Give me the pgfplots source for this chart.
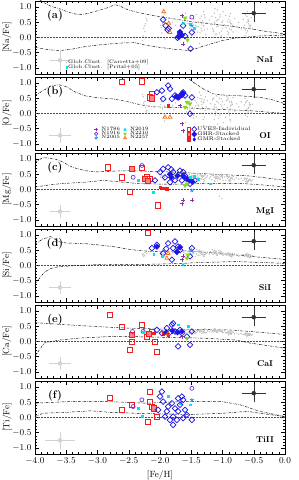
\documentclass[border=0pt]{standalone}
\usepackage{pgfplots}
\pgfplotsset{compat=1.18}
\usepackage{pgfplotstable}
\usepgfplotslibrary{groupplots}
\usetikzlibrary{plotmarks,calc}

\definecolor{uvred}{RGB}{240,30,30}
\definecolor{uvblue}{RGB}{30,20,230}
\definecolor{c1786}{RGB}{140,50,160}
\definecolor{c1916}{RGB}{120,50,220}
\definecolor{c2005}{RGB}{30,140,250}
\definecolor{c2019}{RGB}{0,210,210}
\definecolor{c2210}{RGB}{130,220,20}
\definecolor{c2257}{RGB}{250,110,20}
\definecolor{pritzl}{RGB}{0,230,230}

\pgfplotstableread{
x na o mg si ca
-2.27 0.05 0.55 0.40 0.38 0.32
-2.23 0.45 0.20 0.35 0.45 0.28
-2.26 0.30 0.35 0.42 0.30 0.35
-2.22 0.62 0.05 0.30 0.50 0.25
-2.28 -0.10 0.62 0.45 0.35 0.30
-2.24 0.20 0.40 0.38 0.42 0.38
-2.21 0.55 0.10 0.33 0.40 0.27
-2.25 0.38 0.28 0.41 0.33 0.33
-1.97 0.15 0.50 0.45 0.40 0.33
-1.93 0.50 0.25 0.40 0.48 0.30
-1.95 0.70 0.00 0.35 0.35 0.36
-1.98 0.32 0.38 0.50 0.44 0.28
-1.92 -0.05 0.60 0.43 0.30 0.34
-1.96 0.45 0.15 0.38 0.52 0.31
-1.94 0.60 -0.10 0.32 0.38 0.26
-1.91 0.25 0.45 0.47 0.42 0.35
-1.99 0.40 0.30 0.41 0.36 0.29
-1.93 0.80 -0.25 0.30 0.46 0.32
-1.60 0.10 0.55 0.48 0.38 0.35
-1.55 0.45 0.30 0.42 0.45 0.30
-1.58 0.65 0.05 0.35 0.33 0.38
-1.53 0.30 0.40 0.50 0.50 0.27
-1.62 -0.15 0.65 0.45 0.42 0.33
-1.56 0.55 0.15 0.38 0.36 0.40
-1.59 0.80 -0.30 0.28 0.48 0.29
-1.47 0.20 0.48 0.46 0.40 0.34
-1.43 0.40 0.25 0.40 0.30 0.31
-1.46 0.70 -0.05 0.33 0.44 0.36
-1.49 0.05 0.58 0.52 0.35 0.28
-1.41 0.35 0.35 0.44 0.52 0.37
-1.46 0.60 -0.15 0.30 0.39 0.32
-1.44 0.25 0.42 0.47 0.46 0.26
-1.35 0.00 0.60 0.50 0.40 0.36
-1.31 0.40 0.35 0.45 0.35 0.32
-1.34 0.70 0.00 0.35 0.45 0.40
-1.29 0.25 0.45 0.48 0.30 0.29
-1.37 -0.20 0.70 0.52 0.50 0.34
-1.32 0.55 0.20 0.40 0.38 0.38
-1.30 0.85 -0.40 0.25 0.42 0.30
-1.36 0.15 0.50 0.47 0.33 0.35
-1.33 0.45 0.30 0.42 0.48 0.27
-1.28 0.65 0.10 0.37 0.36 0.42
-1.34 0.30 0.40 0.44 0.44 0.33
-1.31 0.50 -0.20 0.32 0.31 0.31
-1.38 0.35 0.25 0.41 0.47 0.37
-1.27 0.10 0.55 0.49 0.39 0.28
-1.14 0.20 0.50 0.45 0.45 0.36
-1.10 0.55 0.20 0.38 0.38 0.33
-1.13 0.80 -0.20 0.30 0.50 0.40
-1.09 0.35 0.40 0.42 0.34 0.30
-1.15 0.00 0.65 0.50 0.42 0.38
-1.11 0.65 0.05 0.35 0.47 0.35
-1.12 0.45 0.30 0.40 0.40 0.42
-1.08 0.90 -0.35 0.28 0.36 0.31
-1.16 0.30 0.45 0.47 0.52 0.34
-1.11 0.10 -0.05 0.44 0.44 0.37
-1.05 0.15 0.50 0.47 0.42 0.38
-1.01 0.50 0.25 0.42 0.36 0.34
-1.04 0.75 0.00 0.35 0.47 0.40
-1.00 0.30 0.40 0.45 0.40 0.31
-1.06 0.60 -0.15 0.38 0.50 0.36
-1.02 0.05 0.60 0.50 0.38 0.33
-1.03 0.40 0.30 0.43 0.44 0.39
-0.99 0.85 -0.30 0.30 0.34 0.29
-1.01 nan nan -0.30 nan nan
-1.05 nan nan -0.22 nan nan
-0.91 0.10 0.50 0.42 0.38 0.30
-0.87 0.45 0.25 0.35 0.33 0.27
-0.90 0.60 0.05 0.30 0.42 0.33
-0.86 0.25 0.40 0.40 0.30 0.24
-0.93 0.00 0.55 0.45 0.36 0.29
-0.88 0.50 0.15 0.33 0.40 0.32
-0.89 0.70 -0.05 0.28 0.34 0.26
-0.85 0.35 0.35 0.38 0.28 0.31
-0.92 0.20 0.45 0.43 0.37 0.28
-0.88 0.55 -0.20 0.31 0.31 0.25
-0.84 0.40 0.30 0.36 0.39 0.30
-0.90 0.15 0.60 0.41 0.35 0.22
-0.62 0.15 0.40 0.35 0.35 0.25
-0.58 0.45 0.20 0.30 0.30 0.22
-0.61 0.70 0.00 0.25 0.40 0.28
-0.57 0.30 0.30 0.32 0.27 0.20
-0.64 0.05 0.50 0.38 0.33 0.24
-0.59 0.55 0.10 0.28 0.37 0.26
-0.60 0.85 -0.10 0.22 0.31 0.19
-0.56 0.35 0.25 0.33 0.25 0.23
-0.63 0.25 0.35 0.36 0.36 0.27
-0.59 0.60 0.05 0.27 0.29 0.21
-0.55 0.40 0.30 0.31 0.34 0.25
-0.61 0.50 0.15 0.29 0.32 0.18
-1.52 0.62 0.12 0.36 0.41 0.33
-1.50 0.28 0.45 0.45 0.37 0.30
-1.48 0.48 0.20 0.41 0.43 0.35
-1.42 0.75 -0.10 0.31 0.38 0.29
-1.40 0.18 0.52 0.48 0.46 0.33
-1.39 0.52 0.28 0.39 0.34 0.36
-1.36 0.62 0.15 0.36 0.41 0.31
-1.33 0.22 0.48 0.46 0.37 0.39
-1.30 0.38 0.38 0.43 0.43 0.33
-1.29 0.75 -0.12 0.31 0.35 0.37
-1.26 0.48 0.22 0.40 0.40 0.30
-1.24 0.28 0.42 0.45 0.44 0.35
-1.21 0.58 0.15 0.37 0.38 0.33
-1.19 0.42 0.32 0.42 0.45 0.38
-1.17 0.70 0.02 0.33 0.41 0.31
-1.15 0.25 0.50 0.47 0.36 0.36
-1.13 0.50 0.22 0.39 0.43 0.34
-1.12 0.95 -0.45 0.26 0.39 0.39
-1.10 0.12 0.58 0.48 0.47 0.32
-1.08 0.58 0.12 0.36 0.35 0.37
-1.07 0.38 0.35 0.41 0.42 0.35
-1.04 0.68 -0.05 0.33 0.38 0.33
-1.02 0.22 0.48 0.46 0.45 0.36
-1.00 0.55 0.18 0.38 0.41 0.32
-0.97 0.42 0.30 0.41 0.37 0.35
-0.95 0.72 -0.12 0.30 0.40 0.30
-0.94 0.32 0.42 0.44 0.34 0.28
-0.92 0.52 0.20 0.37 0.39 0.31
-0.89 0.28 0.38 0.42 0.36 0.27
-0.87 0.78 -0.25 0.27 0.32 0.29
-0.86 0.45 0.28 0.37 0.37 0.26
-0.83 0.18 0.52 0.43 0.33 0.30
-0.81 0.62 0.08 0.32 0.38 0.25
-0.78 0.35 0.32 0.38 0.35 0.28
-0.74 0.50 0.22 0.34 0.31 0.24
-0.70 0.28 0.38 0.37 0.34 0.27
-0.67 0.60 0.10 0.30 0.36 0.23
-0.65 0.40 0.28 0.34 0.30 0.25
-0.63 0.75 -0.05 0.26 0.34 0.21
-0.60 0.22 0.42 0.37 0.28 0.24
-0.58 0.52 0.18 0.30 0.33 0.22
-0.57 0.38 0.35 0.33 0.36 0.26
-0.54 0.65 0.02 0.27 0.30 0.20
-0.52 0.30 0.30 0.32 0.32 0.23
-1.75 0.40 0.35 0.42 0.40 0.33
-1.78 0.62 0.12 0.36 0.45 0.30
-1.72 0.20 0.50 0.46 0.36 0.35
-1.80 0.50 0.25 0.40 0.42 0.31
}\gcdata

\pgfplotsset{
 gc/.style={only marks, mark=*, mark size=0.45pt, gray!50, mark options={draw=none, fill=gray!50}},
 uvr/.style={only marks, mark=square, mark size=2.6pt, uvred, line width=0.7pt},
 ghrr/.style={only marks, mark=square*, mark size=2.6pt, draw=uvred, fill=uvred!55, line width=0.7pt},
 gmrr/.style={only marks, mark=square*, mark size=1.2pt, uvred},
 uvb/.style={only marks, mark=square, mark size=2pt, mark options={rotate=45}, uvblue, line width=0.7pt},
 ghrb/.style={only marks, mark=square*, mark size=2pt, mark options={rotate=45}, uvblue},
 gmrb/.style={only marks, mark=diamond*, mark size=1.5pt, uvblue},
 n1786/.style={only marks, mark=+, mark size=2pt, c1786, line width=0.7pt},
 n1916/.style={only marks, mark=o, mark size=2pt, c1916, line width=0.7pt},
 n2005/.style={only marks, mark=star, mark size=2.2pt, c2005, line width=0.7pt},
 n2019/.style={only marks, mark=x, mark size=2pt, c2019, line width=0.8pt},
 n2210/.style={only marks, mark=triangle*, mark size=2.2pt, mark options={rotate=180}, c2210},
 n2257/.style={only marks, mark=triangle, mark size=2.2pt, c2257, line width=0.7pt},
 prz/.style={only marks, mark=square*, mark size=0.9pt, pritzl},
 env/.style={no marks, black, line width=0.45pt, dash pattern=on 2.5pt off 1.2pt on 0.5pt off 1.2pt},
 zl/.style={no marks, black!70, line width=0.5pt, densely dotted},
 errg/.style={only marks, mark=none, gray!35, line width=0.45pt,
   error bars/x dir=both, error bars/x explicit, error bars/y dir=both, error bars/y explicit,
   error bars/error mark options={gray!35, mark size=2pt, line width=0.45pt}},
 errk/.style={only marks, mark=none, black!80, line width=0.4pt,
   error bars/x dir=both, error bars/x explicit, error bars/y dir=both, error bars/y explicit,
   error bars/error mark options={black!80, mark size=2pt, line width=0.4pt}},
}

\newcommand{\plab}[1]{\node[font=\fontsize{11}{12}\selectfont\bfseries] at (rel axis cs:0.08,0.8) {(#1)};}
\newcommand{\elab}[1]{\node[font=\fontsize{8.5}{9}\selectfont\bfseries] at (rel axis cs:0.92,0.2) {#1};}

\begin{document}
\begin{tikzpicture}
\begin{groupplot}[
  group style={group size=1 by 6, vertical sep=3pt, xticklabels at=edge bottom},
  width=250pt, height=73pt, scale only axis,
  xmin=-4, xmax=0, ymin=-1.2, ymax=1.2,
  xtick={-4,-3.5,-3,-2.5,-2,-1.5,-1,-0.5,0},
  ytick={-1,-0.5,0,0.5,1},
  minor x tick num=4, minor y tick num=4,
  tick align=inside, major tick length=4pt, minor tick length=2pt,
  axis line style={line width=0.8pt},
  every tick/.style={black, line width=0.5pt},
  tick label style={font=\fontsize{9.5}{10}\selectfont},
  xticklabel style={/pgf/number format/.cd, fixed, fixed zerofill, precision=1},
  yticklabel style={/pgf/number format/.cd, fixed, fixed zerofill, precision=1},
  label style={font=\fontsize{9}{10}\selectfont},
  ylabel style={at={(rel axis cs:-0.112,0.5)}, anchor=center},
]
% ---------------- (a) Na ----------------
\nextgroupplot[ylabel={[Na/Fe]},
  legend style={at={(rel axis cs:0.11,0.23)}, anchor=north west, draw=none, fill=none,
    font=\fontsize{5}{5.5}\selectfont, row sep=-1.5pt, nodes={inner sep=0.6pt}},
  legend cell align=left]
\addplot[gc] table[x=x, y=na] {\gcdata};
\addlegendentry{Glob.Clust.\ \ [Carretta+09]}
\addplot[prz] coordinates {(-1.52,0.45) (-1.45,0.30)};
\addlegendentry{Glob.Clust.\ \ [Pritzl+05]}
\addplot[zl, forget plot] coordinates {(-4,0) (0,0)};
\addplot[env, forget plot] coordinates {(-4.0,1.35) (-3.87,1.16) (-3.75,1.03) (-3.6,0.94) (-3.45,0.82) (-3.3,0.75) (-3.15,0.79) (-3.0,0.88) (-2.85,0.97) (-2.72,1.08) (-2.65,1.04) (-2.5,0.9) (-2.3,0.8) (-2.1,0.72) (-1.8,0.62) (-1.5,0.52) (-1.2,0.45) (-0.9,0.38) (-0.6,0.3) (-0.3,0.2) (0,0.12)};
\addplot[env, forget plot] coordinates {(-4,-0.32) (-3.8,-0.4) (-3.6,-0.43) (-3.4,-0.38) (-3.2,-0.3) (-3.0,-0.25) (-2.8,-0.21) (-2.6,-0.18) (-2.4,-0.17) (-2.16,-0.28) (-1.8,-0.38) (-1.52,-0.43) (-1.3,-0.28) (-1.0,-0.1) (-0.8,-0.02) (-0.4,0.05) (0,0.08)};
\addplot[uvb, forget plot] coordinates {(-1.95,0.59) (-1.91,0.39) (-1.88,0.25) (-1.72,-0.01) (-1.68,0.12) (-1.63,0.39) (-1.49,0.17) (-1.51,-0.37) (-1.86,0.30) (-1.60,0.05)};
\addplot[ghrb, forget plot] coordinates {(-1.65,0.08) (-1.68,0.18) (-1.70,0.02)};
\addplot[n2257, forget plot] coordinates {(-1.94,0.85) (-1.86,0.47) (-1.84,0.17)};
\addplot[n1786, forget plot] coordinates {(-1.65,0.72) (-1.63,-0.21)};
\addplot[n1916, forget plot] coordinates {(-1.49,0.67)};
\addplot[n2210, forget plot] coordinates {(-1.6,0.64) (-1.56,-0.08)};
\addplot[n2019, forget plot] coordinates {(-1.63,0.47)};
\addplot[n2005, forget plot] coordinates {(-1.49,0.39)};
\addplot[forget plot, errg] coordinates {(-3.6,-0.75) +- (0.13,0.27)};
\addplot[forget plot, errk] coordinates {(-0.5,0.8) +- (0.16,0.22)};
\plab{a}\elab{NaI}
% ---------------- (b) O ----------------
\nextgroupplot[ylabel={[O/Fe]},
  legend style={at={(rel axis cs:0.225,0.35)}, anchor=north west, draw=none, fill=none,
    font=\fontsize{5}{5.5}\selectfont, row sep=-2pt, column sep=3pt, nodes={inner sep=0.6pt}},
  legend columns=2, legend cell align=left,
  legend image post style={mark size=1.7pt}]
\addlegendimage{n1786}\addlegendentry{N1786}
\addlegendimage{n2019}\addlegendentry{N2019}
\addlegendimage{n1916}\addlegendentry{N1916}
\addlegendimage{n2210}\addlegendentry{N2210}
\addlegendimage{n2005}\addlegendentry{N2005}
\addlegendimage{n2257}\addlegendentry{N2257}
\addplot[gc, forget plot] table[x=x, y=o] {\gcdata};
\addplot[zl, forget plot] coordinates {(-4,0) (0,0)};
\addplot[env, forget plot] coordinates {(-4,0.59) (-3.87,0.75) (-3.75,0.9) (-3.62,0.95) (-3.5,0.88) (-3.35,0.7) (-3.2,0.58) (-3.0,0.52) (-2.75,0.48) (-2.5,0.38) (-2.3,0.28) (-2.1,0.22) (-1.8,0.2) (-1.5,0.18) (-1.2,0.15) (-0.9,0.12) (-0.6,0.1) (-0.3,0.05) (0,0.0)};
\addplot[env, forget plot] coordinates {(-1.6,1.25) (-1.47,1.03) (-1.3,0.8) (-1.15,0.65) (-0.95,0.6) (-0.77,0.59) (-0.4,0.53) (-0.2,0.45) (0,0.32)};
\addplot[uvr, forget plot] coordinates {(-2.61,1.03) (-2.29,1.06) (-2.16,0.53) (-2.13,0.65)};
\addplot[ghrr, forget plot] coordinates {(-2.13,0.50)};
\addplot[gmrr, forget plot] coordinates {(-1.87,0.26)};
\addplot[uvb, forget plot] coordinates {(-2.05,0.70) (-1.97,0.75) (-1.87,0.92) (-1.84,0.81) (-1.95,0.48) (-1.76,0.59) (-1.71,0.53) (-1.65,0.65) (-1.63,0.70) (-1.60,0.59) (-1.49,0.53) (-1.52,-0.01) (-1.81,0.48)};
\addplot[ghrb, forget plot] coordinates {(-1.65,0.60) (-1.63,0.66) (-1.70,0.53) (-1.74,0.56)};
\addplot[n2257, forget plot] coordinates {(-1.92,-0.12) (-1.84,-0.12)};
\addplot[n1786, forget plot] coordinates {(-1.65,-0.34) (-1.63,-0.56) (-1.68,0.26)};
\addplot[n2210, forget plot] coordinates {(-1.57,0.37) (-1.52,0.32) (-1.6,0.21)};
\addplot[forget plot, errg] coordinates {(-3.6,-0.72) +- (0.15,0.19)};
\addplot[forget plot, errk] coordinates {(-0.5,0.8) +- (0.16,0.22)};
\plab{b}\elab{OI}
% ---------------- (c) Mg ----------------
\nextgroupplot[ylabel={[Mg/Fe]}]
\addplot[gc] table[x=x, y=mg] {\gcdata};
\addplot[zl] coordinates {(-4,0) (0,0)};
\addplot[env] coordinates {(-4,0.9) (-3.87,1.05) (-3.72,1.02) (-3.6,0.95) (-3.4,0.73) (-3.2,0.62) (-3.0,0.58) (-2.8,0.6) (-2.5,0.62) (-2.2,0.6) (-1.8,0.57) (-1.3,0.52) (-0.9,0.48) (-0.6,0.45) (-0.3,0.38) (0,0.3)};
\addplot[env] coordinates {(-4,0.08) (-3.8,0.14) (-3.6,0.19) (-3.2,0.24) (-2.9,0.3) (-2.6,0.24) (-2.3,0.19) (-1.8,0.17) (-1.2,0.2) (-0.7,0.2) (-0.3,0.14) (0,0.08)};
\addplot[uvr] coordinates {(-2.83,0.73) (-2.29,0.71) (-2.61,0.40) (-2.48,-0.09) (-2.21,0.40) (-2.16,0.36) (-2.03,-0.52)};
\addplot[ghrr] coordinates {(-2.45,0.68) (-2.24,0.35) (-2.19,0.28)};
\addplot[gmrr] coordinates {(-1.89,0.02) (-1.95,0.05) (-2.0,0.08)};
\addplot[uvb] coordinates {(-2.08,0.30) (-2.0,0.57) (-1.95,0.68) (-1.87,0.73) (-1.79,0.57) (-1.68,0.62) (-1.63,0.57) (-1.76,0.30) (-1.84,0.24) (-1.52,0.19) (-1.44,0.30) (-1.65,0.30) (-1.92,0.40) (-1.82,0.66) (-1.60,0.45)};
\addplot[ghrb] coordinates {(-1.84,0.50) (-1.82,0.40) (-1.72,0.45) (-1.63,0.45) (-1.57,0.35) (-1.53,0.30) (-1.48,0.25)};
\addplot[n1916] coordinates {(-2.43,0.40) (-2.29,0.79)};
\addplot[prz] coordinates {(-2.35,0.30) (-2.11,-0.09) (-1.52,0.40) (-1.45,0.45) (-1.39,0.35) (-1.2,0.19)};
\addplot[n1786] coordinates {(-1.65,-0.47) (-1.63,-0.36) (-1.49,-0.36)};
\addplot[n2210] coordinates {(-1.6,0.13) (-1.57,0.18)};
\addplot[n2005] coordinates {(-1.49,-0.03)};
\addplot[errg] coordinates {(-3.6,-0.72) +- (0.13,0.16)};
\addplot[errk] coordinates {(-0.5,0.8) +- (0.16,0.22)};
\plab{c}\elab{MgI}
% ---------------- (d) Si ----------------
\nextgroupplot[ylabel={[Si/Fe]}]
\addplot[gc] table[x=x, y=si] {\gcdata};
\addplot[zl] coordinates {(-4,0) (0,0)};
\addplot[env] coordinates {(-4,0.7) (-3.87,0.88) (-3.75,0.95) (-3.62,0.78) (-3.5,0.74) (-3.2,0.72) (-3.0,0.68) (-2.75,0.62) (-2.45,0.52) (-2.16,0.46) (-1.6,0.48) (-1.15,0.42) (-0.8,0.35) (-0.55,0.3) (0,0.2)};
\addplot[env] coordinates {(-4,-0.6) (-3.92,-0.4) (-3.85,-0.22) (-3.75,-0.1) (-3.6,-0.03) (-3.3,0.0) (-3.0,0.03) (-2.5,0.04) (-2.16,0.04) (-1.8,0.06) (-1.3,0.1) (-0.8,0.13) (-0.4,0.1) (0,0.07)};
\addplot[uvr] coordinates {(-2.19,1.08)};
\addplot[uvb] coordinates {(-2.05,0.68) (-2.13,0.57) (-1.95,0.40) (-1.87,0.73) (-1.79,0.57) (-1.76,0.79) (-1.68,0.51) (-1.81,0.19) (-1.52,0.30) (-1.49,0.57) (-1.71,0.62) (-1.90,0.55)};
\addplot[ghrb] coordinates {(-1.73,0.45) (-1.68,0.60) (-2.05,0.62)};
\addplot[n2257] coordinates {(-1.87,0.40) (-1.89,0.24)};
\addplot[n1786] coordinates {(-1.63,0.30) (-1.65,0.19)};
\addplot[n2210] coordinates {(-1.57,0.24) (-1.55,0.35)};
\addplot[n2019] coordinates {(-1.63,0.02)};
\addplot[prz] coordinates {(-1.97,0.30) (-2.1,0.38)};
\addplot[n2005] coordinates {(-1.50,0.50)};
\addplot[errg] coordinates {(-3.6,-0.72) +- (0.15,0.16)};
\addplot[errk] coordinates {(-0.5,0.8) +- (0.16,0.22)};
\plab{d}\elab{SiI}
% ---------------- (e) Ca ----------------
\nextgroupplot[ylabel={[Ca/Fe]}]
\addplot[gc] table[x=x, y=ca] {\gcdata};
\addplot[zl] coordinates {(-4,0) (0,0)};
\addplot[env] coordinates {(-4,0.62) (-3.5,0.55) (-3.0,0.49) (-2.5,0.44) (-2.0,0.41) (-1.3,0.39) (-0.9,0.38) (-0.56,0.33) (0,0.23)};
\addplot[env] coordinates {(-4,-0.5) (-3.93,-0.27) (-3.85,-0.05) (-3.6,0.05) (-3.3,0.11) (-2.85,0.16) (-2.4,0.16) (-2.0,0.14) (-1.3,0.11) (-0.8,0.05) (-0.56,-0.05) (0,-0.22)};
\addplot[uvr] coordinates {(-2.8,0.87) (-2.61,0.49) (-2.29,0.55) (-2.45,0.0) (-2.48,-0.27) (-2.21,0.16) (-2.13,0.33) (-2.08,0.0) (-2.05,-0.33)};
\addplot[ghrr] coordinates {(-2.45,0.22) (-2.18,0.25)};
\addplot[gmrr] coordinates {(-1.87,0.22) (-1.95,0.25) (-2.1,0.28)};
\addplot[n1916] coordinates {(-2.44,0.33) (-2.27,0.33)};
\addplot[prz] coordinates {(-2.27,0.30) (-1.71,0.55) (-1.55,0.49)};
\addplot[uvb] coordinates {(-2.05,0.38) (-1.97,0.27) (-1.89,0.44) (-1.81,0.55) (-1.79,0.60) (-1.76,0.33) (-1.68,0.38) (-1.65,0.27) (-1.71,-0.16) (-1.52,-0.11) (-1.57,0.16) (-1.49,0.33) (-1.84,0.30)};
\addplot[ghrb] coordinates {(-1.80,0.35) (-1.72,0.30) (-1.65,0.33) (-1.90,0.30)};
\addplot[n1786] coordinates {(-1.65,0.16)};
\addplot[n2210] coordinates {(-1.57,0.11)};
\addplot[n2257] coordinates {(-1.87,0.25)};
\addplot[errg] coordinates {(-3.6,-0.72) +- (0.15,0.15)};
\addplot[errk] coordinates {(-0.5,0.8) +- (0.16,0.22)};
\plab{e}\elab{CaI}
% ---------------- (f) Ti ----------------
\nextgroupplot[ylabel={[Ti/Fe]}, xlabel={[Fe/H]}]
\addplot[zl] coordinates {(-4,0) (0,0)};
\addplot[env] coordinates {(-4,0.47) (-3.5,0.52) (-2.8,0.52) (-2.2,0.47) (-1.7,0.52) (-1.0,0.52) (-0.72,0.42) (-0.4,0.2) (0,0.03)};
\addplot[env] coordinates {(-4,0.03) (-3.87,0.14) (-3.5,0.17) (-3.1,0.22) (-2.8,0.17) (-2.4,0.14) (-2.0,0.12) (-1.5,0.1) (-1.0,0.14) (-0.6,0.2) (-0.4,0.14) (0,0.03)};
\addplot[uvr] coordinates {(-2.8,0.65) (-2.61,0.25) (-2.45,0.42) (-2.19,-0.13) (-2.16,0.52) (-2.16,0.85) (-2.13,0.36) (-2.05,0.03)};
\addplot[ghrr] coordinates {(-2.10,0.30)};
\addplot[n1916] coordinates {(-2.43,0.36) (-2.29,0.58) (-1.49,0.96)};
\addplot[prz] coordinates {(-2.35,0.3) (-2.29,0.03) (-1.87,0.69) (-1.68,0.47) (-1.52,0.42)};
\addplot[uvb] coordinates {(-1.97,0.85) (-2.0,0.69) (-1.95,0.52) (-1.87,0.36) (-1.89,0.2) (-1.81,0.47) (-1.79,0.03) (-1.79,-0.24) (-1.71,0.63) (-1.65,0.69) (-1.68,0.42) (-1.63,0.58) (-1.71,0.2) (-1.63,-0.02) (-1.57,0.09) (-1.49,-0.08) (-1.92,0.03) (-2.03,0.25) (-1.84,-0.08) (-1.73,-0.08) (-1.76,0.30) (-1.60,0.25)};
\addplot[n2005] coordinates {(-1.49,0.58)};
\addplot[errg] coordinates {(-3.6,-0.75) +- (0.2,0.22)};
\addplot[errk] coordinates {(-0.5,0.8) +- (0.16,0.22)};
\plab{f}\elab{TiII}
\end{groupplot}
% second legend block of panel (b)
\begin{axis}[at={(group c1r2.south west)}, anchor=south west,
  width=250pt, height=73pt, scale only axis, hide axis,
  xmin=-4, xmax=0, ymin=-1.2, ymax=1.2,
  legend style={at={(rel axis cs:0.595,0.36)}, anchor=north west, draw=none, fill=none,
    font=\fontsize{5.2}{5.7}\selectfont, row sep=-1.2pt, column sep=0pt, nodes={inner sep=0.6pt}},
  legend columns=2, legend cell align=left,
  legend image post style={mark size=1.8pt}]
\addlegendimage{uvr}\addlegendentry{}
\addlegendimage{uvb}\addlegendentry{UVES-Individual}
\addlegendimage{ghrr}\addlegendentry{}
\addlegendimage{ghrb}\addlegendentry{GHR-Stacked}
\addlegendimage{gmrr}\addlegendentry{}
\addlegendimage{gmrb}\addlegendentry{GMR-Stacked}
\addplot[draw=none, forget plot] coordinates {(-2,0)};
\end{axis}
\pgfresetboundingbox
\path[use as bounding box] ($(group c1r1.north west)+(-35pt,1pt)$) rectangle ($(group c1r6.south east)+(14pt,-26pt)$);
\end{tikzpicture}
\end{document}
